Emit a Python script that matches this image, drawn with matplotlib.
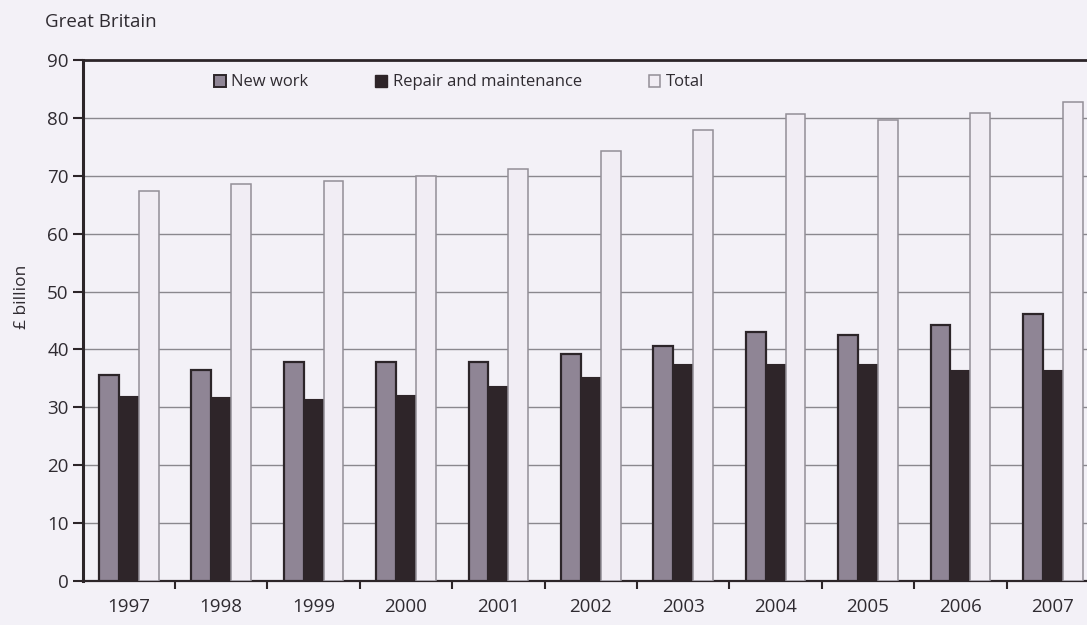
import matplotlib
matplotlib.use("Agg")
import numpy as np
from matplotlib import pyplot as plt
from matplotlib.patches import Patch

plt.rcParams['font.family'] = ['Open Sans', 'DejaVu Sans']

# construction output, £ billion
years = ['1997', '1998', '1999', '2000', '2001', '2002',
         '2003', '2004', '2005', '2006', '2007']
new_work = [35.6, 36.4, 37.9, 37.8, 37.9, 39.2, 40.6, 43.0, 42.5, 44.3, 46.2]
repair = [32.0, 31.7, 31.4, 32.1, 33.6, 35.3, 37.4, 37.4, 37.5, 36.4, 36.4]
total = [67.4, 68.6, 69.1, 69.9, 71.2, 74.3, 77.9, 80.7, 79.7, 80.8, 82.8]

bg = '#f3f1f7'
dark = '#2c2529'
txt = '#2f2b31'

fig = plt.figure(figsize=(10.87, 6.25), dpi=100, facecolor=bg)
ax = fig.add_axes([0.076, 0.0704, 0.935, 0.8336], facecolor=bg)

x = np.arange(len(years))
w = 0.215
ax.bar(x - w, new_work, w, color='#8f8595', edgecolor=dark, linewidth=1.6, zorder=3)
ax.bar(x, repair, w, color='#2e2529', edgecolor='#2e2529', linewidth=0.8, zorder=3)
ax.bar(x + w, total, w, color='#f1edf4', edgecolor='#938f97', linewidth=1.1, zorder=3)

ax.set_xlim(-0.5, len(years) - 0.5)
ax.set_ylim(0, 90)
ax.set_yticks(range(0, 91, 10))
ax.tick_params(axis='y', direction='out', length=7, width=1.5, color=dark,
               labelsize=13.5, labelcolor=txt, pad=3)

ax.set_xticks(x)
ax.set_xticklabels(years)
ax.set_xticks(x[:-1] + 0.5, minor=True)
ax.tick_params(axis='x', which='major', length=0, labelsize=13.5, labelcolor=txt, pad=12)
ax.tick_params(axis='x', which='minor', direction='out', length=6, width=1.5, color=dark)

for v in range(10, 90, 10):
    ax.axhline(v, color='#8a888e', linewidth=1, zorder=1)

for side in ['left', 'bottom', 'top']:
    ax.spines[side].set_color(dark)
ax.spines['left'].set_linewidth(2.2)
ax.spines['bottom'].set_linewidth(1.6)
ax.spines['top'].set_linewidth(2.0)
ax.spines['right'].set_visible(False)

ax.set_ylabel('£ billion', fontsize=12.5, color=txt)
ax.yaxis.set_label_coords(-0.052, 0.545)

fig.text(0.041, 0.965, 'Great Britain', fontsize=13.5, color=txt, va='center')

handles = [Patch(facecolor='#8f8595', edgecolor=dark, linewidth=1.4),
           Patch(facecolor='#2e2529', edgecolor='#2e2529'),
           Patch(facecolor='#f1edf4', edgecolor='#938f97', linewidth=1.1)]
fig.legend(handles, ['New work', 'Repair and maintenance', 'Total'],
           loc='center left', bbox_to_anchor=(0.183, 0.868), ncol=3, frameon=False,
           fontsize=12, handlelength=0.7, handleheight=0.7, handletextpad=0.35,
           columnspacing=4.0, labelcolor=txt)

fig.savefig('out.png', dpi=100, facecolor=bg)
